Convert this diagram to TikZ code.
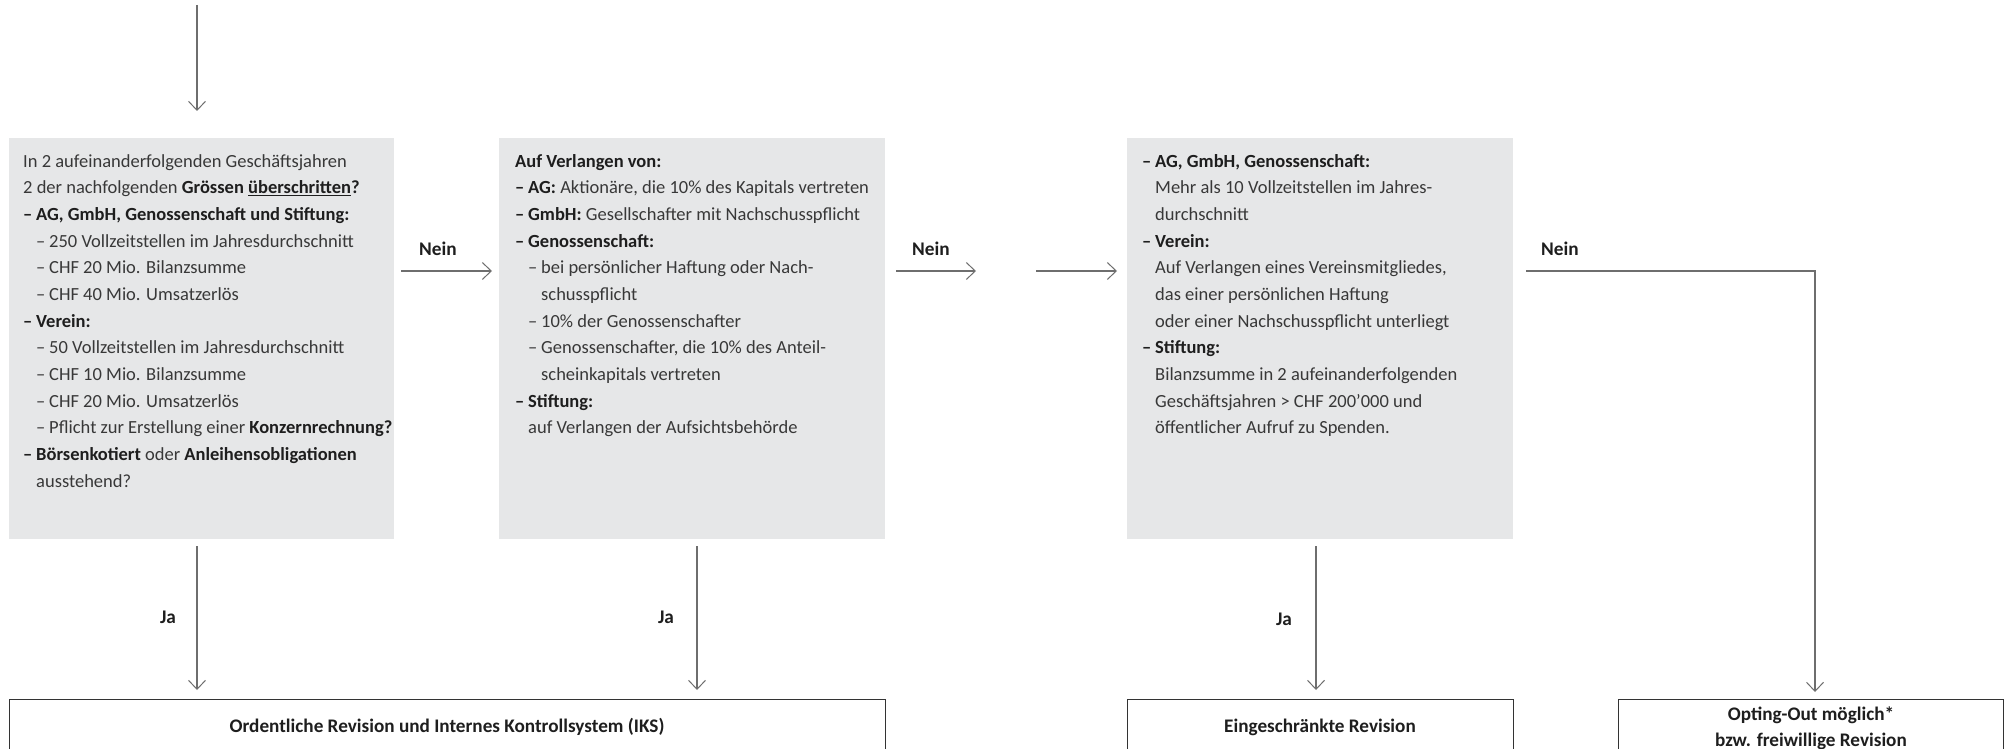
\documentclass[tikz,border=0pt]{standalone}
\usepackage{fontspec}
\setmainfont{Carlito}
\usetikzlibrary{arrows.meta}
\definecolor{boxgrey}{HTML}{E6E7E8}
\definecolor{txt}{HTML}{383838}
\definecolor{txtb}{HTML}{1E1E1E}
\definecolor{arrgrey}{HTML}{6E6E6E}
\definecolor{frame}{HTML}{333333}
\newcommand\B[1]{{\bfseries\color{txtb}#1}}
\newcommand\Dash{\makebox[13pt][l]{–}}
\newcommand\In{\hspace*{13pt}}
\newcommand\boxlines[1]{\vtop{\baselineskip=26.67pt\lineskiplimit=-20pt\halign{##\hfil\cr#1\crcr}}}
\tikzset{
  greybox/.style={fill=boxgrey,draw=none,inner sep=0pt,anchor=north west},
  resbox/.style={draw=frame,line width=1.4pt,fill=white,inner sep=0pt,anchor=north west},
  boxtext/.style={anchor=base west,inner sep=0pt,text=txt,font=\fontsize{18.5}{26.67}\selectfont},
  restext/.style={anchor=base,inner sep=0pt,text=txtb,font=\fontsize{19.2}{26}\selectfont\bfseries,align=center},
  lbl/.style={inner sep=0pt,text=txtb,font=\fontsize{19.3}{20}\selectfont\bfseries},
  arr/.style={draw=arrgrey,line width=1.3pt,-{Straight Barb[length=9pt,width=17pt,line width=1pt]}},
  plain/.style={draw=arrgrey,line width=1.3pt}
}
\begin{document}
\begin{tikzpicture}[x=1pt,y=-1pt]
\useasboundingbox (0,0) rectangle (2011,749);
\clip (0,0) rectangle (2011,749);

% grey question boxes
\node[greybox,minimum width=385pt,minimum height=401pt] (b1) at (9,138) {};
\node[greybox,minimum width=386pt,minimum height=401pt] (b2) at (499,138) {};
\node[greybox,minimum width=386pt,minimum height=401pt] (b3) at (1127,138) {};

% result boxes (cut by the lower edge)
\node[resbox,minimum width=876pt,minimum height=90pt] (ra) at (9,699) {};
\node[resbox,minimum width=386pt,minimum height=90pt] (rb) at (1127,699) {};
\node[resbox,minimum width=385pt,minimum height=90pt] (rc) at (1618,699) {};

% texts in grey boxes
\node[boxtext] (t1) at (23,167.3) {\boxlines{%
In 2 aufeinanderfolgenden Geschäftsjahren\cr
2 der nachfolgenden \B{Grössen \underline{überschritten}?}\cr
\B{\Dash AG, GmbH, Genossenschaft und Stiftung:}\cr
\In\Dash 250 Vollzeitstellen im Jahresdurchschnitt\cr
\In\Dash CHF 20 Mio. Bilanzsumme\cr
\In\Dash CHF 40 Mio. Umsatzerlös\cr
\B{\Dash Verein:}\cr
\In\Dash 50 Vollzeitstellen im Jahresdurchschnitt\cr
\In\Dash CHF 10 Mio. Bilanzsumme\cr
\In\Dash CHF 20 Mio. Umsatzerlös\cr
\In\Dash Pflicht zur Erstellung einer \B{Konzernrechnung?}\cr
\B{\Dash Börsenkotiert} oder \B{Anleihensobligationen}\cr
\In ausstehend?}};

\node[boxtext] (t2) at (515,167.3) {\boxlines{%
\B{Auf Verlangen von:}\cr
\B{\Dash AG:} Aktionäre, die 10\% des Kapitals vertreten\cr
\B{\Dash GmbH:} Gesellschafter mit Nachschusspflicht\cr
\B{\Dash Genossenschaft:}\cr
\In\Dash bei persönlicher Haftung oder Nach-\cr
\In\In schusspflicht\cr
\In\Dash 10\% der Genossenschafter\cr
\In\Dash Genossenschafter, die 10\% des Anteil-\cr
\In\In scheinkapitals vertreten\cr
\B{\Dash Stiftung:}\cr
\In auf Verlangen der Aufsichtsbehörde}};

\node[boxtext] (t3) at (1142,167.3) {\boxlines{%
\B{\Dash AG, GmbH, Genossenschaft:}\cr
\In Mehr als 10 Vollzeitstellen im Jahres-\cr
\In durchschnitt\cr
\B{\Dash Verein:}\cr
\In Auf Verlangen eines Vereinsmitgliedes,\cr
\In das einer persönlichen Haftung\cr
\In oder einer Nachschusspflicht unterliegt\cr
\B{\Dash Stiftung:}\cr
\In Bilanzsumme in 2 aufeinanderfolgenden\cr
\In Geschäftsjahren > CHF 200’000 und\cr
\In öffentlicher Aufruf zu Spenden.}};

% result texts
\node[restext] (ta) at (447,732) {Ordentliche Revision und Internes Kontrollsystem (IKS)};
\node[restext] (tb) at (1320,732) {Eingeschränkte Revision};
\node[restext] (tc1) at (1811,720) {Opting-Out möglich*};
\node[restext] (tc2) at (1811,746) {bzw. freiwillige Revision};

% helper coordinates
\coordinate (top) at (197,5);
\coordinate (row) at (0,271);
\coordinate (m1) at (976,271);
\coordinate (m2) at (1036,271);
\coordinate (corner) at (1815,271);
\coordinate (ja1) at (197,0);
\coordinate (ja2) at (697,0);
\coordinate (ja3) at (1316,0);

% connectors
\draw[arr,shorten >=27pt] (top) -- (top |- b1.north);
\draw[arr,shorten <=7pt,shorten >=7pt] (b1.east |- row) -- (b2.west |- row);
\draw[arr,shorten <=11pt] (b2.east |- row) -- (m1);
\draw[arr,shorten >=10pt] (m2) -- (b3.west |- row);
\draw[arr,shorten <=13pt,shorten >=7pt] (b3.east |- row) -| (corner |- rc.north);
\draw[arr,shorten <=7pt,shorten >=9pt] (ja1 |- b1.south) -- (ja1 |- ra.north);
\draw[arr,shorten <=7pt,shorten >=9pt] (ja2 |- b2.south) -- (ja2 |- ra.north);
\draw[arr,shorten <=7pt,shorten >=9pt] (ja3 |- b3.south) -- (ja3 |- rb.north);

% labels
\node[lbl,anchor=base west] (n1) at (419,255) {Nein};
\node[lbl,anchor=base west] (n2) at (912,255) {Nein};
\node[lbl,anchor=base west] (n3) at (1541,255) {Nein};
\node[lbl,anchor=base] (j1) at (168,623) {Ja};
\node[lbl,anchor=base] (j2) at (666,623) {Ja};
\node[lbl,anchor=base] (j3) at (1284,625) {Ja};
\end{tikzpicture}
\end{document}
